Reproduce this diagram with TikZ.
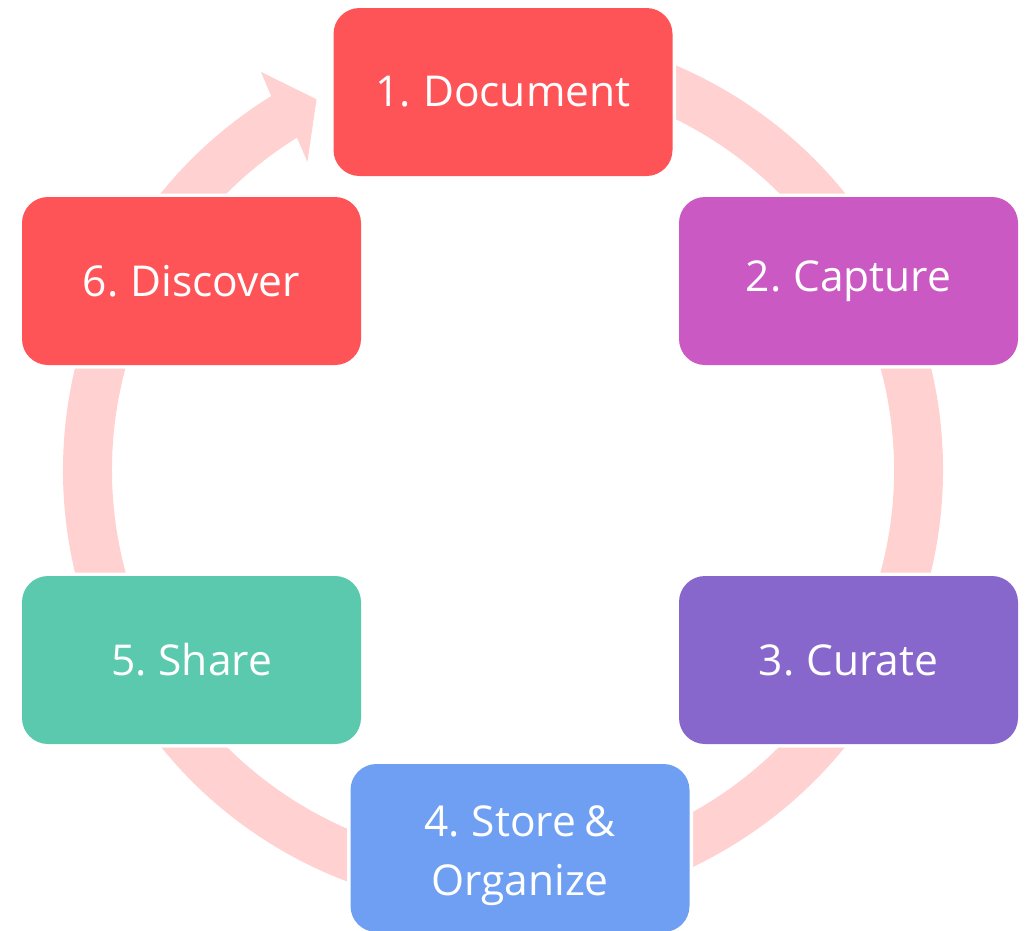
\documentclass[tikz,border=0pt]{standalone}
\usepackage{fontspec}
\setmainfont{Open Sans}[WordSpace=0.75]
\definecolor{ringc}{HTML}{FFD1D1}
\definecolor{cRed}{HTML}{FF5457}
\definecolor{cMag}{HTML}{CB59C3}
\definecolor{cPur}{HTML}{8867CD}
\definecolor{cBlue}{HTML}{6F9FF2}
\definecolor{cTeal}{HTML}{5BC9AE}
\begin{document}
\begin{tikzpicture}[x=1pt,y=1pt,
  stepbox/.style={rounded corners=26pt, minimum width=339pt, minimum height=168pt,
    inner sep=0pt, text=white, align=center,
    font=\fontsize{42.5}{59}\selectfont,
    preaction={draw=white, line width=7pt}},
  steptext/.style={inner sep=0pt, text=white, align=center,
    font=\fontsize{42.5}{59}\selectfont}]
\useasboundingbox (0,0) rectangle (1030,-930);
\coordinate (C) at (503,-470);
% ring with arrow
\begin{scope}[shift={(C)}]
\fill[ringc] (121.8:440pt) arc[start angle=121.8, end angle=460, radius=440pt]
  -- (460:391pt) arc[start angle=460, end angle=121.8, radius=391pt]
  -- (122.4:365pt) -- (116.7:415pt) -- (121.3:466pt) -- cycle;
\end{scope}
\node[stepbox, fill=cRed]  (n1) at (503,-92)    {1. Document};
\node[stepbox, fill=cMag]  (n2) at (848.5,-281) {2. Capture};
\node[stepbox, fill=cPur]  (n3) at (848.5,-660) {3. Curate};
\node[stepbox, fill=cBlue] (n4) at (520,-848)   {};
\node[steptext] (n4t) at ([yshift=-8pt]n4.center) {4. Store \&\\Organize};
\node[stepbox, fill=cTeal] (n5) at (191.5,-660) {5. Share};
\node[stepbox, fill=cRed]  (n6) at (191.5,-281) {6. Discover};
\end{tikzpicture}
\end{document}
